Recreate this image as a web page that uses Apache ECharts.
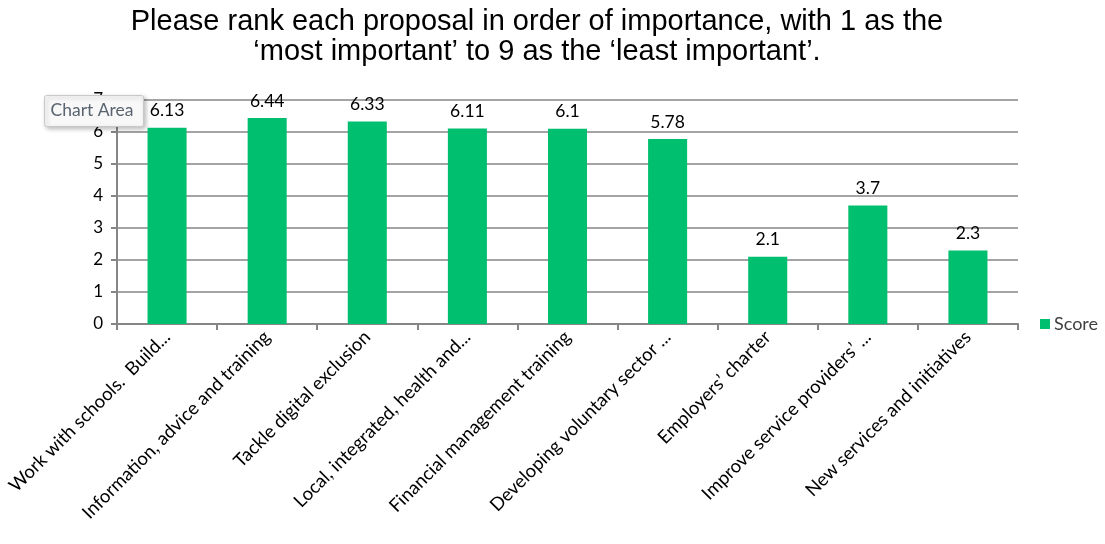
<!DOCTYPE html>
<html>
<head>
<meta charset="utf-8">
<script src="https://cdn.jsdelivr.net/npm/echarts@6/dist/echarts.min.js"></script>
<style>html,body{margin:0;padding:0;background:#fff}#c{width:1105px;height:544px}</style>
</head>
<body>
<div id="c"></div>
<script>
const categories = [
  "Work with schools.  Build...",
  "Information, advice and training",
  "Tackle digital exclusion",
  "Local, integrated, health and...",
  "Financial management training",
  "Developing voluntary sector ...",
  "Employers’ charter",
  "Improve service providers’ ...",
  "New services and initiatives"
];
const scores = [6.13, 6.44, 6.33, 6.11, 6.1, 5.78, 2.1, 3.7, 2.3];
const seriesName = "Score";
const titleText = "Please rank each proposal in order of importance, with 1 as the\n‘most important’ to 9 as the ‘least important’.";

const chart = echarts.init(document.getElementById('c'), null, {renderer: 'canvas'});
const font = 'Lato, "Open Sans", sans-serif';
chart.setOption({
  animation: false,
  backgroundColor: '#fff',
  title: {
    text: titleText,
    left: 532, top: 2, textAlign: 'center',
    textStyle: {fontFamily: '"Liberation Sans", Arial, sans-serif', fontSize: 29, fontWeight: 'normal', color: '#000', lineHeight: 30}
  },
  legend: {
    data: [seriesName], orient: 'vertical', left: 1035, top: 310,
    itemWidth: 10, itemHeight: 10, itemGap: 5, icon: 'rect',
    textStyle: {fontFamily: font, fontSize: 18, color: '#404040', padding: [0,0,0,-1]}
  },
  grid: {left: 117, right: 87, top: 100, bottom: 220, containLabel: false},
  xAxis: {
    type: 'category', data: categories,
    axisLine: {lineStyle: {color: '#868686', width: 2}},
    axisTick: {show: true, alignWithLabel: false, length: 6, lineStyle: {color: '#868686', width: 2}},
    axisLabel: {rotate: 45, interval: 0, margin: 10, fontFamily: font, fontSize: 18.5, color: '#000'}
  },
  yAxis: {
    type: 'value', min: 0, max: 7, interval: 1,
    axisLine: {show: true, lineStyle: {color: '#868686', width: 2}},
    axisTick: {show: true, length: 6, lineStyle: {color: '#868686', width: 2}},
    splitLine: {lineStyle: {color: '#868686', width: 1.5}},
    axisLabel: {margin: 14, fontFamily: font, fontSize: 17, color: '#000'}
  },
  series: [{
    name: seriesName, type: 'bar', data: scores, barWidth: '39%',
    itemStyle: {color: '#00BF6F'},
    label: {show: true, position: 'top', distance: 8, fontFamily: font, fontSize: 17.5, color: '#000'}
  }],
  graphic: [{
    type: 'group', left: 44, top: 95, z: 100,
    children: [
      {type: 'rect', z: 100, shape: {x: 0, y: 0, width: 99, height: 31, r: 2},
       style: {fill: '#f8f8f8', stroke: '#c8c8c8', lineWidth: 1, shadowBlur: 4, shadowOffsetX: 2, shadowOffsetY: 2, shadowColor: 'rgba(0,0,0,0.25)'}},
      {type: 'text', z: 101, x: 6, y: 6, style: {text: 'Chart Area', fontFamily: font, fontSize: 17.5, fill: '#5a6470'}}
    ]
  }]
});
</script>
</body>
</html>
